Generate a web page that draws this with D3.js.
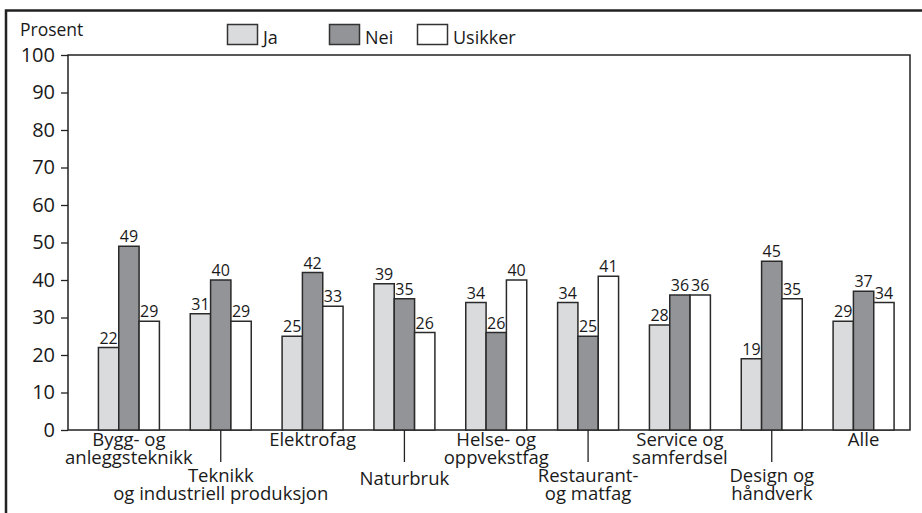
<!DOCTYPE html>
<html>
<head>
<meta charset="utf-8">
<script src="https://cdn.jsdelivr.net/npm/d3@7"></script>
<style>
  body { margin: 0; background: #fff; }
  svg { display: block; font-family: "Open Sans", sans-serif; }
  .frame, .axis-line { stroke: #222; fill: none; }
  .bar { stroke: #2a2a2a; stroke-width: 1.5; }
  text { fill: #1a1a1a; }
</style>
</head>
<body>
<svg width="922" height="513"></svg>
<script>
// data
const categories = [
  ['Bygg- og', 'anleggsteknikk'],
  ['Teknikk', 'og industriell produksjon'],
  ['Elektrofag'],
  ['Naturbruk'],
  ['Helse- og', 'oppvekstfag'],
  ['Restaurant-', 'og matfag'],
  ['Service og', 'samferdsel'],
  ['Design og', 'håndverk'],
  ['Alle']
];
const seriesNames = ['Ja', 'Nei', 'Usikker'];
const jaValues = [22, 31, 25, 39, 34, 34, 28, 19, 29];
const neiValues = [49, 40, 42, 35, 26, 25, 36, 45, 37];
const usikkerValues = [29, 29, 33, 26, 40, 41, 36, 35, 34];
const yTicks = [0, 10, 20, 30, 40, 50, 60, 70, 80, 90, 100];

const colors = { 'Ja': '#dadbdd', 'Nei': '#939498', 'Usikker': '#ffffff' };

const rows = categories.map((c, i) => ({
  key: c.join(' '),
  lines: c,
  values: [jaValues[i], neiValues[i], usikkerValues[i]]
}));

const svg = d3.select('svg');

// outer frame (cut off by the picture edges)
svg.append('path')
  .attr('class', 'frame')
  .attr('stroke-width', 2.5)
  .attr('d', 'M6,513 V10.5 H922');

const plotLeft = 68, plotRight = 910, plotTop = 55, plotBottom = 430;

const y = d3.scaleLinear().domain([0, 100]).range([plotBottom, plotTop]);

const x = d3.scaleBand()
  .domain(rows.map(d => d.key))
  .range([83, 909.5])
  .paddingInner(0.336)
  .paddingOuter(0.168);

const xSub = d3.scaleBand()
  .domain(seriesNames)
  .range([0, x.bandwidth()]);

// plot box
svg.append('rect')
  .attr('class', 'axis-line')
  .attr('stroke-width', 1.5)
  .attr('x', plotLeft)
  .attr('y', plotTop)
  .attr('width', plotRight - plotLeft)
  .attr('height', plotBottom - plotTop);

// y axis
const yAxis = d3.axisLeft(y)
  .tickValues(yTicks)
  .tickSize(7)
  .tickPadding(6);

const yAxisG = svg.append('g')
  .attr('transform', `translate(${plotLeft},0)`)
  .call(yAxis);
yAxisG.select('.domain').remove();
yAxisG.selectAll('line').attr('stroke', '#222').attr('stroke-width', 1.3);
yAxisG.selectAll('text')
  .attr('font-size', 20)
  .attr('font-family', '"Open Sans", sans-serif')
  .attr('fill', '#1a1a1a');

svg.append('text')
  .attr('x', 20)
  .attr('y', 36)
  .attr('font-size', 17.5)
  .text('Prosent');

// legend
const legendX = [227, 329, 417];
const legend = svg.append('g');
seriesNames.forEach((s, i) => {
  legend.append('rect')
    .attr('x', legendX[i] + 0.5)
    .attr('y', 24.5)
    .attr('width', 30)
    .attr('height', 20)
    .attr('fill', colors[s])
    .attr('stroke', '#333')
    .attr('stroke-width', 1.5);
  legend.append('text')
    .attr('x', legendX[i] + 36)
    .attr('y', 44)
    .attr('font-size', 18)
    .text(s);
});

// bars
const groups = svg.selectAll('.group')
  .data(rows)
  .enter().append('g')
    .attr('class', 'group')
    .attr('transform', d => `translate(${x(d.key)},0)`);

groups.selectAll('rect')
  .data(d => d.values.map((v, i) => ({ s: seriesNames[i], v })))
  .enter().append('rect')
    .attr('class', 'bar')
    .attr('x', d => xSub(d.s))
    .attr('y', d => y(d.v))
    .attr('width', xSub.bandwidth())
    .attr('height', d => y(0) - y(d.v))
    .attr('fill', d => colors[d.s]);

groups.selectAll('.val')
  .data(d => d.values.map((v, i) => ({ s: seriesNames[i], v })))
  .enter().append('text')
    .attr('class', 'val')
    .attr('x', d => xSub(d.s) + xSub.bandwidth() / 2)
    .attr('y', d => y(d.v) - 4)
    .attr('text-anchor', 'middle')
    .attr('font-size', 16)
    .text(d => d.v);

// category labels, staggered
const labels = svg.selectAll('.cat')
  .data(rows)
  .enter().append('g')
    .attr('class', 'cat')
    .attr('transform', d => `translate(${x(d.key) + x.bandwidth() / 2},0)`);

labels.filter((d, i) => i % 2 === 1)
  .append('line')
    .attr('y1', plotBottom)
    .attr('y2', 462)
    .attr('stroke', '#222')
    .attr('stroke-width', 1.3);

labels.each(function (d, i) {
  const lower = i % 2 === 1;
  let base = lower ? 482 : 446;
  if (lower && d.lines.length === 1) base = 485;
  d.lines.forEach((line, j) => {
    d3.select(this).append('text')
      .attr('y', base + j * 17.5)
      .attr('text-anchor', 'middle')
      .attr('font-size', 18.5)
      .text(line);
  });
});
</script>
</body>
</html>
